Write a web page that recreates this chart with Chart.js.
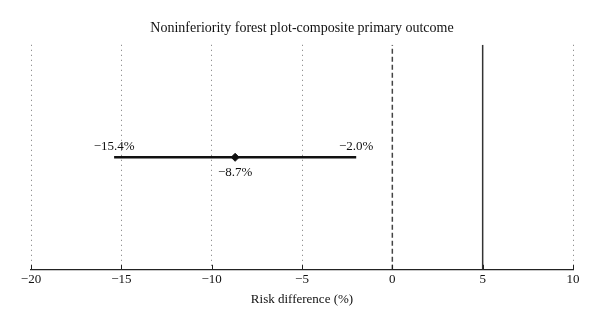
<!DOCTYPE html>
<html>
<head>
<meta charset="utf-8">
<script src="https://cdn.jsdelivr.net/npm/chart.js@4"></script>
<style>
  body { margin: 0; background: #fff; }
  #wrap { width: 600px; height: 325px; }
</style>
</head>
<body>
<div id="wrap"><canvas id="forest"></canvas></div>
<script>
const xTicks = [-20, -15, -10, -5, 0, 5, 10];
const estimate = [-8.7];
const lowerCI = [-15.4];
const upperCI = [-2.0];
const zeroLine = [0];
const marginLine = [5];

const serif = "'Liberation Serif', 'DejaVu Serif', serif";
const minus = v => (v < 0 ? '\u2212' + Math.abs(v) : String(v));
const pct = v => '\u2212' + Math.abs(v).toFixed(1) + '%';

// small inward ticks on the axis + value labels
const extras = {
  id: 'extras',
  afterDatasetsDraw(chart) {
    const ctx = chart.ctx;
    const x = chart.scales.x;
    const y = chart.scales.y;
    const bottom = chart.chartArea.bottom;
    ctx.save();
    ctx.strokeStyle = '#222';
    ctx.lineWidth = 1;
    xTicks.forEach(t => {
      const px = Math.round(x.getPixelForValue(t)) + 0.5;
      ctx.beginPath();
      ctx.moveTo(px, bottom);
      ctx.lineTo(px, bottom - 5);
      ctx.stroke();
    });
    ctx.fillStyle = '#111';
    ctx.font = '13px ' + serif;
    ctx.textAlign = 'center';
    const py = y.getPixelForValue(0.5);
    ctx.textBaseline = 'bottom';
    ctx.fillText(pct(lowerCI[0]), x.getPixelForValue(lowerCI[0]), py - 4);
    ctx.fillText(pct(upperCI[0]), x.getPixelForValue(upperCI[0]), py - 4);
    ctx.textBaseline = 'top';
    ctx.fillText(pct(estimate[0]), x.getPixelForValue(estimate[0]), py + 9);
    ctx.restore();
  }
};

new Chart(document.getElementById('forest'), {
  type: 'line',
  data: {
    datasets: [
      {
        data: [{ x: zeroLine[0], y: 0 }, { x: zeroLine[0], y: 1 }],
        borderColor: '#444',
        borderWidth: 1.5,
        borderDash: [5, 3],
        pointRadius: 0
      },
      {
        data: [{ x: marginLine[0], y: 0 }, { x: marginLine[0], y: 1 }],
        borderColor: '#333',
        borderWidth: 1.5,
        pointRadius: 0
      },
      {
        data: [{ x: lowerCI[0], y: 0.5 }, { x: upperCI[0], y: 0.5 }],
        borderColor: '#111',
        borderWidth: 2.5,
        pointRadius: 0
      },
      {
        type: 'scatter',
        data: [{ x: estimate[0], y: 0.5 }],
        pointStyle: 'rectRot',
        pointRadius: 4,
        backgroundColor: '#111',
        borderColor: '#111',
        borderWidth: 1
      }
    ]
  },
  options: {
    responsive: true,
    maintainAspectRatio: false,
    animation: false,
    layout: { padding: { left: 31, right: 27, top: 0, bottom: 18 } },
    plugins: {
      legend: { display: false },
      tooltip: { enabled: false },
      title: {
        display: true,
        text: 'Noninferiority forest plot-composite primary outcome',
        color: '#111',
        font: { family: serif, size: 14, weight: 'normal' },
        padding: { top: 20, bottom: 8 }
      }
    },
    scales: {
      x: {
        type: 'linear',
        min: -20,
        max: 10,
        afterBuildTicks: scale => { scale.ticks = xTicks.map(v => ({ value: v })); },
        ticks: {
          color: '#111',
          font: { family: serif, size: 13 },
          padding: 2,
          maxRotation: 0,
          callback: v => minus(v)
        },
        grid: {
          drawTicks: false,
          color: ctx => (ctx.tick && (ctx.tick.value === 0 || ctx.tick.value === 5) ? 'rgba(0,0,0,0)' : '#777'),
          lineWidth: 1
        },
        border: { display: true, color: '#222', width: 1.2, dash: [1, 4] },
        title: {
          display: true,
          text: 'Risk difference (%)',
          color: '#111',
          font: { family: serif, size: 13 },
          padding: { top: 2, bottom: 0 }
        }
      },
      y: {
        display: false,
        min: 0,
        max: 1
      }
    }
  },
  plugins: [extras]
});
</script>
</body>
</html>
